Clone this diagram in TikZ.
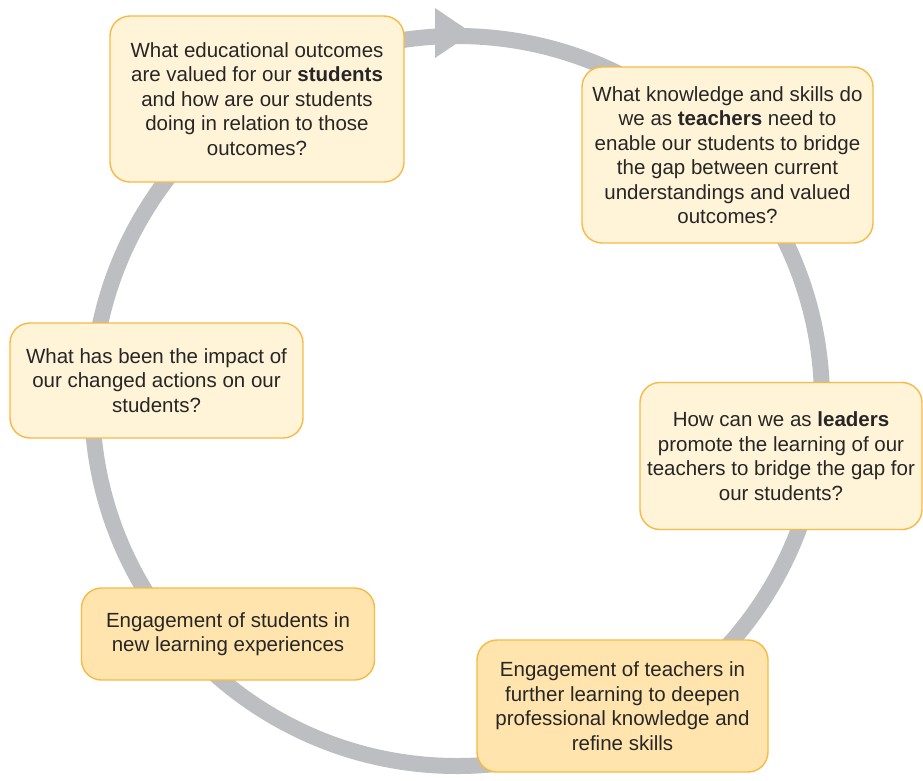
\documentclass[tikz,border=0pt]{standalone}
\usepackage{fontspec}
\setmainfont{Liberation Sans}
\definecolor{ringgray}{HTML}{BDBEC2}
\definecolor{boxedge}{HTML}{F8BA45}
\definecolor{paleboxfill}{HTML}{FFF3D8}
\definecolor{deepboxfill}{HTML}{FFE4AD}
\definecolor{inktext}{HTML}{262626}
\begin{document}
\begin{tikzpicture}[x=1pt,y=-1pt,
  qbox/.style={draw=boxedge, line width=1.4pt, rounded corners=20pt,
    fill=paleboxfill, align=center, inner sep=0pt, text=inktext,
    font=\fontsize{20.5}{24.5}\selectfont},
  actbox/.style={qbox, fill=deepboxfill}]
\useasboundingbox (0,0) rectangle (923,780);
\fill[white] (0,0) rectangle (923,780);

% the cycle ring and its arrowhead
\coordinate (hub) at (457,401);
\draw[ringgray, line width=16pt] (hub) circle[radius=365];
\fill[ringgray] (435,8) -- (472,33) -- (435,58) -- cycle;

% questions and actions around the cycle
\node[qbox, minimum width=294pt, minimum height=166pt] (outcomes) at (257,99)
  {What educational outcomes\\are valued for our \textbf{students}\\and how are our students\\doing in relation to those\\outcomes?};
\node[qbox, minimum width=291pt, minimum height=176pt] (teachers) at (727.5,155)
  {What knowledge and skills do\\we as \textbf{teachers} need to\\enable our students to bridge\\the gap between current\\understandings and valued\\outcomes?};
\node[qbox, minimum width=282pt, minimum height=147pt] (leaders) at (781,456)
  {How can we as \textbf{leaders}\\promote the learning of our\\teachers to bridge the gap for\\our students?};
\node[actbox, minimum width=291pt, minimum height=132pt] (teachlearn) at (622.5,706)
  {Engagement of teachers in\\further learning to deepen\\professional knowledge and\\refine skills};
\node[actbox, minimum width=293pt, minimum height=92pt] (studlearn) at (228,634)
  {Engagement of students in\\new learning experiences};
\node[qbox, minimum width=293pt, minimum height=115pt] (impact) at (156.5,380.5)
  {What has been the impact of\\our changed actions on our\\students?};
\end{tikzpicture}
\end{document}
